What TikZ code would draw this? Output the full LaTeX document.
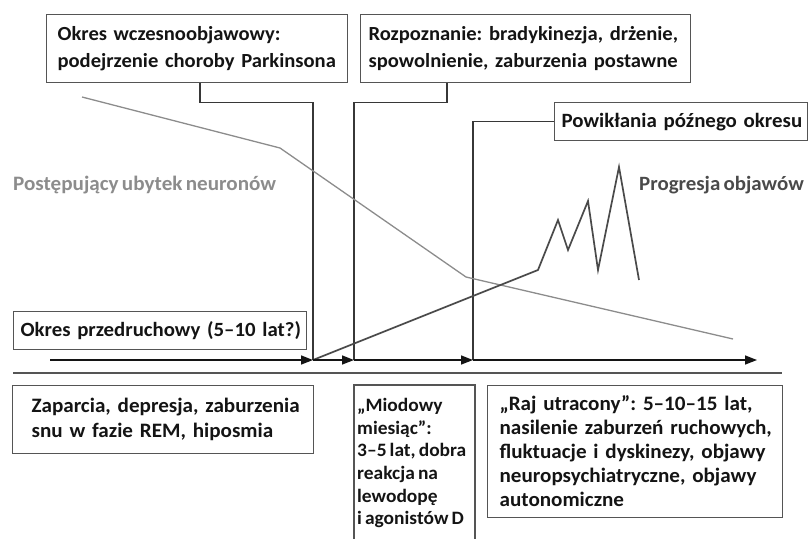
\documentclass[tikz,border=0pt]{standalone}
\usepackage{fontspec}
\setmainfont{Carlito}[FakeStretch=1.03, WordSpace=0.7]
\usetikzlibrary{arrows.meta}
\frenchspacing

\definecolor{frame}{HTML}{555555}
\definecolor{ink}{HTML}{141414}
\definecolor{lossgray}{HTML}{8C8C8C}
\definecolor{symgray}{HTML}{4A4A4A}

% keep every typed line of a box on one line
\newcommand{\oneline}[1]{\mbox{#1}}
\newcommand{\fs}[2]{\bfseries\fontsize{#1}{#2}\selectfont}

\begin{document}
\begin{tikzpicture}[x=1pt,y=-1pt,
  txt/.style={font=\fs{20}{27}, text=ink},
  box/.style={txt, draw=frame, line width=1.2pt, fill=white, align=left,
    anchor=north west, inner ysep=0pt},
  conn/.style={draw=ink!85, line width=1.3pt},
  axis/.style={draw=ink, line width=1.5pt, -{Triangle[length=12pt,width=9pt]}},
  loss/.style={draw=lossgray, line width=1.3pt, line join=round},
  sym/.style={draw=symgray, line width=1.7pt, line join=miter}]
\useasboundingbox (0,0) rectangle (808,538);

% time axis points
\coordinate (a0) at (50,360);
\coordinate (t1) at (313,360);
\coordinate (t2) at (354,360);
\coordinate (t3) at (473,360);
\coordinate (a4) at (757,360);

% upper boxes
\node[box, inner xsep=11pt, text width=279pt, minimum height=68pt] (b1) at (46,14)
  {\oneline{Okres wczesnoobjawowy:}\\\oneline{podejrzenie choroby Parkinsona}};
\node[box, inner xsep=8pt, text width=314pt, minimum height=68pt] (b2) at (360,14)
  {\oneline{Rozpoznanie: bradykinezja, drżenie,}\\\oneline{spowolnienie, zaburzenia postawne}};
\node[box, font=\fs{20.3}{27}, inner xsep=7pt, text width=239pt, minimum height=38pt] (b3) at (554,102)
  {\oneline{Powikłania późnego okresu}};
\node[box, font=\fs{20.2}{27}, inner xsep=7pt, text width=279pt, minimum height=38pt] (b0) at (13,311)
  {\oneline{Okres przedruchowy (5--10 lat?)}};

% connectors from boxes to the axis
\draw[conn] ([xshift=154pt]b1.south west) -- ++(0,19) -| (t1);
\draw[conn] ([xshift=87pt]b2.south west) -- ++(0,19) -| (t2);
\draw[conn] (b3.west) -| (t3);

% neuron loss curve
\coordinate (l0) at (82,97);
\coordinate (l1) at (280,148);
\coordinate (l2) at (466,277);
\coordinate (l3) at (733,339);
\draw[loss] (l0) -- (l1) -- (l2) -- (l3);
\node[txt, font=\fs{20.5}{27}, text=lossgray,
  anchor=west, inner sep=0pt] (lossl) at (13,185)
  {Postępujący ubytek neuronów};

% symptom progression curve
\coordinate (s1) at (538,270);
\coordinate (s2) at (558,220);
\coordinate (s3) at (568,250);
\coordinate (s4) at (588,201);
\coordinate (s5) at (598,270);
\coordinate (s6) at (619,167);
\coordinate (s7) at (639,280);
\draw[sym] (t1) -- (s1) -- (s2) -- (s3) -- (s4) -- (s5) -- (s6) -- (s7);
\node[txt, font=\fs{20.3}{27}, text=symgray,
  anchor=west, inner sep=0pt] (syml) at (639,185)
  {Progresja objawów};

% axis segments
\draw[axis] (a0) -- (t1);
\draw[axis] (t1) -- (t2);
\draw[axis] (t2) -- (t3);
\draw[axis] (t3) -- (a4);

% separator
\coordinate (sepL) at (13,373);
\coordinate (sepR) at (782,373);
\draw[draw=frame, line width=1.4pt] (sepL) -- (sepR);

% lower boxes
\node[box, font=\fs{20.5}{24.5}, inner xsep=19pt,
  text width=263pt, minimum height=68pt] (c1) at (12,385)
  {\oneline{Zaparcia, depresja, zaburzenia}\\\oneline{snu w fazie REM, hiposmia}};
\node[box, font=\fs{20.5}{24}, inner xsep=12pt,
  text width=271pt, minimum height=132pt] (c3) at (487,385)
  {\oneline{„Raj utracony”: 5--10--15 lat,}\\\oneline{nasilenie zaburzeń ruchowych,}\\\oneline{fluktuacje i dyskinezy, objawy}\\\oneline{neuropsychiatryczne, objawy}\\\oneline{autonomiczne}};
\node[txt, anchor=north west, align=left, inner sep=0pt,
  font=\fs{18.9}{22.7}] (c2) at (357,398)
  {„Miodowy\\miesiąc”:\\3--5 lat, dobra\\reakcja na\\lewodopę\\i agonistów D};
\coordinate (m0) at (354,545);
\coordinate (m1) at (354,385);
\coordinate (m2) at (475,385);
\coordinate (m3) at (475,545);
\draw[draw=frame, line width=1.2pt] (m0) -- (m1) -- (m2) -- (m3);
\end{tikzpicture}
\end{document}
